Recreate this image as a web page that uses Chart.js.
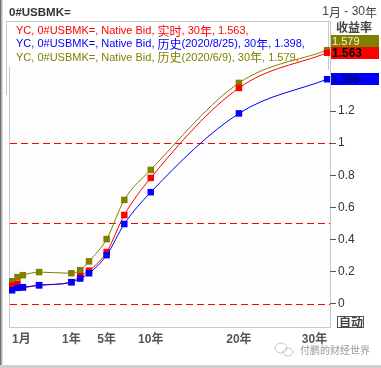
<!DOCTYPE html>
<html>
<head>
<meta charset="utf-8">
<script src="https://cdn.jsdelivr.net/npm/chart.js@4"></script>
<style>
  body { margin: 0; background: #fff; }
  #wrap { width: 381px; height: 368px; }
</style>
</head>
<body>
<div id="wrap"><canvas id="myChart" width="381" height="368"></canvas></div>
<script>
// maturities in years
const maturities = [1/12, 2/12, 3/12, 0.5, 1, 2, 3, 5, 7, 10, 20, 30];
const liveYields = [0.112, 0.124, 0.100, 0.115, 0.134, 0.171, 0.205, 0.321, 0.552, 0.783, 1.344, 1.563];
const hist0825 = [0.083, 0.098, 0.102, 0.114, 0.133, 0.156, 0.189, 0.302, 0.496, 0.694, 1.185, 1.398];
const hist0609 = [0.139, 0.165, 0.177, 0.196, 0.189, 0.208, 0.263, 0.402, 0.646, 0.833, 1.375, 1.579];

const seriesNames = [
  'YC, 0#USBMK=, Native Bid, 实时, 30年, 1.563,',
  'YC, 0#USBMK=, Native Bid, 历史(2020/8/25), 30年, 1.398,',
  'YC, 0#USBMK=, Native Bid, 历史(2020/6/9), 30年, 1.579,'
];

const xTickYears = [1/12, 1, 5, 10, 20, 30];
const xTickLabels = ['1月', '1年', '5年', '10年', '20年', '30年'];
const yTickLabels = [0, 0.2, 0.4, 0.6, 0.8, 1, 1.2];
const refLines = [0, 0.5, 1];

// the terminal squeezes everything past 1 year
function pos(y) {
  return y <= 1 ? y : 1 + (y - 1) * 0.1364;
}

function points(vals) {
  return vals.map((v, i) => ({ x: pos(maturities[i]), y: v }));
}

const cjk = /([\u3400-\u9fff]+)/;
function drawMixed(ctx, text, x, y, latinFont, cjkFont) {
  text.split(cjk).forEach(part => {
    if (!part) return;
    ctx.font = cjk.test(part) ? cjkFont : latinFont;
    ctx.fillText(part, x, y);
    x += ctx.measureText(part).width;
  });
}

const frame = {
  id: 'frame',
  beforeDraw(chart) {
    const c = chart.ctx;
    const a = chart.chartArea;
    c.save();
    c.fillStyle = '#fff';
    c.fillRect(0, 0, chart.width, chart.height);
    c.fillStyle = '#fdfdfd';
    c.fillRect(a.left, a.top, a.right - a.left, a.bottom - a.top);
    c.fillStyle = '#707070';
    c.fillRect(0, 0, 1.5, chart.height);
    c.fillStyle = '#b0b0b0';
    c.fillRect(1.5, 0, 1, chart.height);
    c.fillStyle = '#d0d0d0';
    c.fillRect(0, 365, chart.width, 3);
    c.strokeStyle = '#c8c8c8';
    c.lineWidth = 1;
    c.strokeRect(a.left + 0.5, a.top + 0.5, a.right - a.left, a.bottom - a.top);
    // red dashed reference lines
    const ys = chart.scales.y;
    c.strokeStyle = 'rgb(255,0,0)';
    c.setLineDash([7, 4]);
    refLines.forEach(v => {
      const y = Math.round(ys.getPixelForValue(v)) + 0.5;
      c.beginPath();
      c.moveTo(a.left + 1, y);
      c.lineTo(a.right, y);
      c.stroke();
    });
    c.setLineDash([]);
    c.restore();
  },
  beforeDatasetsDraw(chart) {
    const c = chart.ctx;
    c.save();
    // legend box
    c.fillStyle = '#fff';
    c.fillRect(7, 22, 321, 44);
    c.strokeStyle = '#c8c8c8';
    c.lineWidth = 1;
    c.beginPath();
    c.moveTo(6.5, 95); c.lineTo(6.5, 21.5); c.lineTo(328.5, 21.5); c.lineTo(328.5, 70);
    c.stroke();
    c.textBaseline = 'middle';
    const colors = ['#ff0000', '#0000ff', '#808000'];
    seriesNames.forEach((t, i) => {
      c.fillStyle = colors[i];
      drawMixed(c, t, 16, 31 + i * 13.3, '11px "Liberation Sans", Arial', '12px "Noto Sans CJK SC"');
    });
    c.restore();
  },
  afterDraw(chart) {
    const c = chart.ctx;
    const ys = chart.scales.y;
    c.save();
    c.textBaseline = 'middle';
    c.fillStyle = '#333';
    c.font = 'bold 11.5px "Liberation Sans", Arial';
    c.fillText('0#USBMK=', 9, 12.5);
    c.fillStyle = '#444';
    drawMixedRight(c, '1月 - 30年', 377, 12);
    c.textAlign = 'center';
    c.font = 'bold 12px "Noto Sans CJK SC"';
    c.fillText('收益率', 354, 27);

    // value badges on the right edge
    const h = 12;
    const badges = [
      { v: hist0609[11], bg: '#808000', fg: '#f4f4e4', font: '11px "Liberation Sans", Arial' },
      { v: liveYields[11], bg: '#ff0000', fg: '#000', font: 'bold 12px "Liberation Sans", Arial' },
      { v: hist0825[11], bg: '#0000ff', fg: '#000030', font: '11px "Liberation Sans", Arial' }
    ].map(b => Object.assign(b, { y: ys.getPixelForValue(b.v) }));
    badges.sort((p, q) => p.y - q.y);
    for (let i = badges.length - 2; i >= 0; i--) {
      if (badges[i].y + h > badges[i + 1].y) badges[i].y = badges[i + 1].y - h;
    }
    c.textAlign = 'left';
    badges.forEach(b => {
      const top = Math.round(b.y - h / 2);
      c.fillStyle = b.bg;
      c.fillRect(331, top, 48, h);
      c.fillStyle = b.fg;
      c.font = b.font;
      c.fillText(b.v.toFixed(3), 332, top + h / 2 + 0.5);
    });

    // 自动 button
    c.fillStyle = '#fff';
    c.fillRect(337, 316, 27, 12);
    c.strokeStyle = '#555';
    c.lineWidth = 1;
    c.strokeRect(337.5, 316.5, 26, 11);
    c.fillStyle = '#444';
    c.textAlign = 'center';
    c.font = 'bold 12px "Noto Sans CJK SC"';
    c.fillText('自动', 351, 322.5);

    // watermark
    c.strokeStyle = '#c8c8c8';
    c.beginPath();
    c.ellipse(281, 348, 6, 5, 0, 0, Math.PI * 2);
    c.stroke();
    c.beginPath();
    c.ellipse(288, 352, 5, 4, 0, 0, Math.PI * 2);
    c.stroke();
    c.fillStyle = '#999';
    c.textAlign = 'left';
    c.font = '10px "Noto Sans CJK SC"';
    c.fillText('付鹏的财经世界', 300, 350.5);
    c.restore();
  }
};

function drawMixedRight(c, text, right, y) {
  const latin = '12px "Liberation Sans", Arial';
  const han = '12px "Noto Sans CJK SC"';
  let w = 0;
  text.split(cjk).forEach(p => {
    if (!p) return;
    c.font = cjk.test(p) ? han : latin;
    w += c.measureText(p).width;
  });
  c.textAlign = 'left';
  drawMixed(c, text, right - w, y, latin, han);
}

function line(label, vals, color) {
  return {
    label: label,
    data: points(vals),
    borderColor: color,
    backgroundColor: color,
    borderWidth: 1,
    pointStyle: 'rect',
    pointRadius: 4.6,
    pointBorderWidth: 0,
    pointBackgroundColor: color,
    cubicInterpolationMode: 'monotone'
  };
}

const ctx = document.getElementById('myChart').getContext('2d');
const myChart = new Chart(ctx, {
  type: 'line',
  data: {
    datasets: [
      line(seriesNames[1], hist0825, '#0000ff'),
      line(seriesNames[0], liveYields, '#ff0000'),
      line(seriesNames[2], hist0609, '#808000')
    ]
  },
  options: {
    responsive: false,
    animation: false,
    layout: { padding: { left: 9, top: 21, right: 0, bottom: 0 } },
    plugins: { legend: { display: false }, tooltip: { enabled: false } },
    scales: {
      x: {
        type: 'linear',
        min: 0.035,
        max: 5.0,
        afterFit: s => { s.height = 41; },
        afterBuildTicks: s => { s.ticks = xTickYears.map(y => ({ value: pos(y) })); },
        grid: { display: false, drawTicks: false },
        border: { display: false },
        ticks: {
          align: 'inner',
          padding: 5,
          maxRotation: 0,
          autoSkip: false,
          color: '#555',
          font: { family: '"Liberation Sans", "Noto Sans CJK SC"', size: 12, weight: 'bold' },
          callback: (v, i) => xTickLabels[i]
        }
      },
      y: {
        position: 'right',
        min: -0.146,
        max: 1.761,
        afterFit: s => { s.width = 51; },
        afterBuildTicks: s => { s.ticks = yTickLabels.map(v => ({ value: v })); },
        border: { display: false },
        grid: {
          drawOnChartArea: false,
          tickColor: '#555',
          tickLength: 6,
          lineWidth: 1
        },
        ticks: {
          padding: 2,
          color: '#333',
          font: { family: '"Liberation Sans", Arial', size: 12 },
          callback: v => String(v)
        }
      }
    }
  },
  plugins: [frame]
});
</script>
</body>
</html>
